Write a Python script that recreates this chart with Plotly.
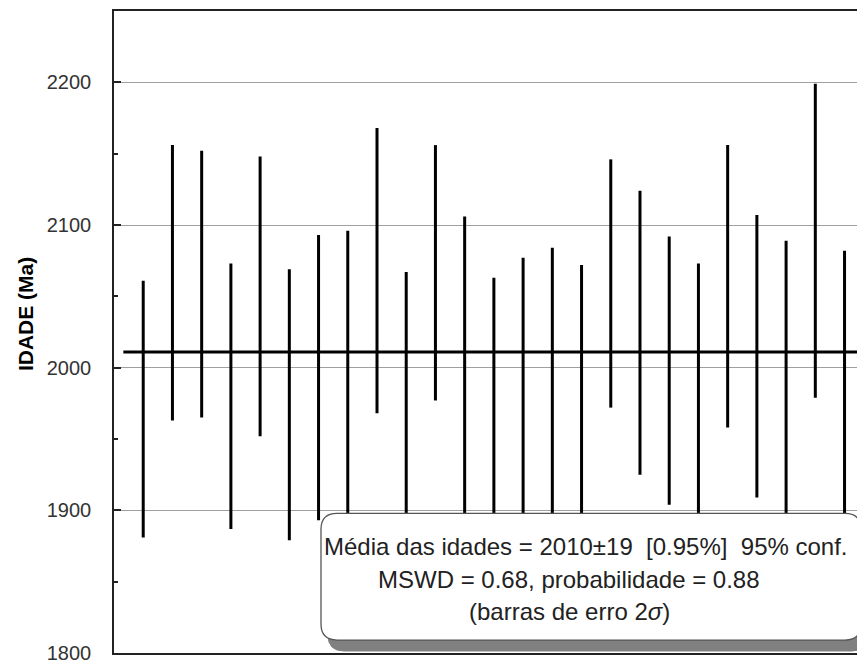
import plotly.graph_objects as go

# ---- data ----
analysis = list(range(1, 26))
tops = [2061, 2156, 2152, 2073, 2148, 2069, 2093, 2096, 2168, 2067,
        2156, 2106, 2063, 2077, 2084, 2072, 2146, 2124, 2092, 2073,
        2156, 2107, 2089, 2199, 2082]
bottoms = [1881, 1963, 1965, 1887, 1952, 1879, 1893, 1892, 1968, 1878,
           1977, 1888, 1875, 1884, 1887, 1880, 1972, 1925, 1904, 1880,
           1958, 1909, 1884, 1979, 1884]
mean_age = 2011
y_ticks = [1800, 1900, 2000, 2100, 2200]
box_lines = [
    "Média das idades = 2010±19\u00a0\u00a0[0.95%]\u00a0\u00a095% conf.",
    "MSWD = 0.68, probabilidade = 0.88",
    "(barras de erro 2<i>σ</i>)",
]

# ---- geometry (screen pixels; page body has an 8px margin) ----
OFF = 8
SW, SH = 865, 664
L, T, B = 114, 11, 9            # plot area in screen coords
PW, PH = SW - L, SH - T - B
FONT = "Arial, Liberation Sans, sans-serif"


def px(x):
    return (x - L) / PW


def py(y):
    return (SH - B - y) / PH


def rounded_rect(x0, y0, x1, y1, r):
    pts = [
        ("M", [(x0 + r, y0)]),
        ("L", [(x1 - r, y0)]),
        ("Q", [(x1, y0), (x1, y0 + r)]),
        ("L", [(x1, y1 - r)]),
        ("Q", [(x1, y1), (x1 - r, y1)]),
        ("L", [(x0 + r, y1)]),
        ("Q", [(x0, y1), (x0, y1 - r)]),
        ("L", [(x0, y0 + r)]),
        ("Q", [(x0, y0), (x0 + r, y0)]),
    ]
    s = ""
    for cmd, ps in pts:
        s += cmd + " " + " ".join(f"{px(a):.5f},{py(b):.5f}" for a, b in ps) + " "
    return s + "Z"


# error bars as vertical segments
xs, ys = [], []
for a, lo, hi in zip(analysis, bottoms, tops):
    xs += [a, a, None]
    ys += [lo, hi, None]

fig = go.Figure()
fig.add_trace(go.Scatter(x=xs, y=ys, mode="lines",
                         line=dict(color="black", width=3),
                         hoverinfo="skip", showlegend=False))
fig.add_trace(go.Scatter(x=[0.32, 25.8], y=[mean_age, mean_age], mode="lines",
                         line=dict(color="black", width=3),
                         hoverinfo="skip", showlegend=False))

# box with shadow
fig.add_shape(type="path", xref="paper", yref="paper", layer="above",
              path=rounded_rect(328, 524, 868, 653, 16),
              fillcolor="#808080", line=dict(color="#808080", width=1))
fig.add_shape(type="path", xref="paper", yref="paper", layer="above",
              path=rounded_rect(321, 515, 861, 642, 16),
              fillcolor="white", line=dict(color="#555555", width=1.3))

centers = [(586, 548), (569, 581), (569, 613)]
for txt, (cx, cy) in zip(box_lines, centers):
    fig.add_annotation(text=txt, xref="paper", yref="paper",
                       x=px(cx), y=py(cy), xanchor="center", yanchor="middle",
                       showarrow=False,
                       font=dict(family=FONT, size=24, color="#222222"))

fig.add_annotation(text="<b>IDADE (Ma)</b>", xref="paper", yref="paper",
                   x=px(25), y=py(315), xanchor="center", yanchor="middle",
                   textangle=-90, showarrow=False,
                   font=dict(family=FONT, size=21, color="black"))

fig.update_layout(
    width=SW - OFF, height=SH - OFF,
    margin=dict(l=L - OFF, r=0, t=T - OFF, b=B, pad=0),
    paper_bgcolor="white", plot_bgcolor="white",
    font=dict(family=FONT, size=20, color="#222222"),
    showlegend=False,
    xaxis=dict(range=[0, 25.7], showgrid=False, zeroline=False,
               showticklabels=False, ticks="",
               showline=True, linecolor="#222222", linewidth=1.5, mirror=True),
    yaxis=dict(range=[1800, 2250], tickvals=y_ticks, showgrid=True,
               gridcolor="#a0a0a0", gridwidth=1, zeroline=False,
               ticks="inside", ticklen=7, tickcolor="#222222", tickwidth=1.5,
               minor=dict(dtick=50, ticks="inside", ticklen=4,
                          tickcolor="#222222", showgrid=False),
               ticklabelstandoff=17, ticklabeloverflow="allow",
               showline=True, linecolor="#222222", linewidth=1.5, mirror=False,
               tickfont=dict(family=FONT, size=20, color="#333333")),
)

fig.write_html("out.html")
